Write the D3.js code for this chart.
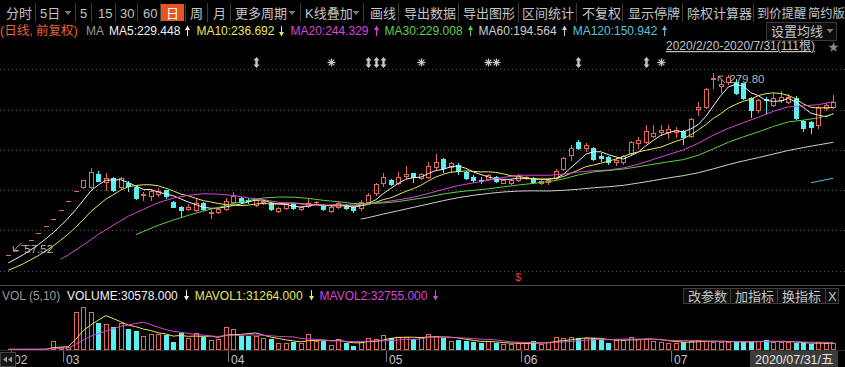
<!DOCTYPE html>
<html>
<head>
<meta charset="utf-8">
<script src="https://cdn.jsdelivr.net/npm/d3@7"></script>
<style>
  body { margin: 0; background: #000; overflow: hidden; }
  svg { display: block; }
</style>
</head>
<body>
<div id="chart"></div>
<script>
////////////////////////////////////////////////////////////////////////
// data (111 daily candles, 2020/2/20 - 2020/7/31)
var openP = [57.52,63.27,69.60,76.56,84.22,92.64,101.90,112.09,123.30,135.63,
  141.0,140.3,156.5,147.1,151.3,141.0,145.9,141.0,130.7,129.7,
  131.8,136.5,122.7,116.6,114.3,112.6,120.8,109.3,110.5,113.4,
  122.7,126.9,125.0,118.7,122.7,120.8,111.4,115.4,119.6,113.4,
  117.5,122.0,118.7,111.7,116.6,118.7,116.6,114.7,122.7,133.0,
  145.2,149.2,145.2,154.1,157.4,152.0,153.2,164.7,174.5,164.7,
  167.5,159.4,153.2,149.5,150.1,153.2,146.0,145.2,149.2,151.5,
  151.3,145.2,146.4,152.0,162.6,179.7,196.0,187.9,187.9,178.9,
  177.3,171.6,170.8,181.8,194.0,196.0,203.3,207.8,208.2,207.5,
  209.0,203.3,235.6,238.7,272.5,264.0,268.5,269.2,267.3,249.0,
  234.7,248.5,240.8,246.9,244.8,249.0,221.3,220.4,216.4,237.5,238.7];
var highP = [57.52,63.27,69.60,76.56,84.22,92.64,101.90,112.09,123.30,135.63,
  149.19,164.11,160.6,157.4,152.5,153.0,148.4,142.0,134.9,138.2,
  139.0,137.5,124.0,117.5,119.5,126.9,122.0,112.6,114.5,126.9,
  134.9,129.0,127.0,126.0,125.0,122.0,116.5,121.0,121.0,118.0,
  126.9,124.0,120.0,118.0,123.0,119.5,117.5,124.8,133.7,145.6,
  157.4,151.0,159.4,166.3,158.0,157.5,170.8,180.9,176.0,171.6,
  169.6,160.5,155.0,152.5,157.0,154.0,150.0,150.5,157.0,154.5,
  152.5,149.0,152.0,162.6,177.0,192.0,198.1,194.0,189.0,181.8,
  178.5,175.7,180.0,197.0,201.7,216.4,216.4,216.4,216.0,213.9,
  210.5,225.0,244.8,261.9,279.80,271.0,277.0,272.5,268.0,250.0,
  248.0,250.5,255.1,257.5,254.0,252.0,222.0,221.0,240.0,243.0,253.0];
var lowP = [57.52,63.27,69.60,76.56,84.22,92.64,101.90,112.09,123.30,135.63,
  139.5,139.0,147.5,137.0,136.0,140.0,136.2,126.0,124.8,124.8,
  130.0,127.0,116.0,104.4,112.5,111.0,112.0,102.5,109.0,112.5,
  121.0,121.0,121.0,117.0,120.0,112.0,110.0,114.0,114.0,112.0,
  116.0,120.0,112.0,110.0,115.0,114.0,110.5,113.0,121.0,131.0,
  141.9,143.0,144.0,152.0,147.1,151.0,152.0,163.0,159.4,159.4,
  156.2,150.0,147.0,145.2,149.0,147.0,145.0,144.0,148.0,150.0,
  145.0,144.0,144.0,151.0,161.0,173.6,186.5,184.6,174.0,172.4,
  169.0,167.5,169.0,180.0,188.3,195.0,201.7,204.1,200.5,201.7,
  192.8,202.0,228.6,237.0,261.2,257.0,266.0,254.0,248.0,226.5,
  232.0,230.7,239.0,245.0,243.0,224.0,209.0,206.5,213.0,235.0,237.0];
var closeP = [57.52,63.27,69.60,76.56,84.22,92.64,101.90,112.09,123.30,135.63,
  149.19,159.4,148.4,152.0,137.0,151.3,141.9,126.9,131.9,135.8,
  136.2,129.5,116.6,112.6,116.5,120.8,113.4,110.3,113.4,123.9,
  129.7,122.7,123.0,124.8,123.5,113.4,115.4,119.6,115.4,116.6,
  120.8,122.7,113.4,116.6,121.5,115.4,112.6,122.7,130.9,144.0,
  153.2,144.3,153.2,156.5,153.2,156.2,166.3,171.6,163.5,170.3,
  160.6,151.3,149.2,148.4,155.3,148.4,149.2,149.2,155.3,152.7,
  146.4,148.0,149.2,160.2,175.7,187.9,187.9,191.9,174.9,175.7,
  170.8,173.6,178.9,195.6,198.1,209.0,206.2,210.3,211.1,210.3,
  202.1,223.7,238.0,260.3,274.1,266.0,275.4,255.1,249.0,234.7,
  246.9,246.9,249.0,250.9,250.9,225.3,213.1,214.3,238.7,240.8,244.8];

// volume, thousands
var volK = [3,3,3,3.5,3.5,4,40.5,12,15,172.5,
  195,169.5,120,117,105,123,93,87,63,72,
  72,67.5,37.5,78,52.5,78,60,45,48,102,
  93,63,63,63,52.5,48,33,33,37.5,33,
  72,40.5,40.5,22.5,48,33,19.5,37.5,52.5,48,
  67.5,55.5,60,57,48,57,72,63,52.5,40.5,
  45,40.5,37.5,30,40.5,33,25.5,25.5,30,33,
  40.5,27,34.5,57,52.5,57,52.5,52.5,52.5,48,
  30,45,45,60,49.5,49.5,42,34.5,33,33,
  34.5,40.5,45,40.5,37.5,34.5,37.5,37.5,34.5,37.5,
  40.5,45,37.5,34.5,34.5,30,30,25.5,34.5,33,30.578];

// moving averages as drawn (one value per candle)
var ma5 = [48.0,52.8,58.0,63.9,70.2,77.3,85.0,93.5,102.8,113.1,
  124.4,135.9,143.2,148.9,149.2,149.6,146.1,141.8,137.8,137.6,
  134.5,132.1,130.0,126.1,122.3,119.2,116.0,114.7,114.9,116.4,
  118.1,120.0,122.5,124.8,124.7,121.5,120.0,119.3,117.5,116.1,
  117.6,119.0,117.8,118.0,119.0,117.9,115.9,117.8,120.6,125.1,
  132.7,139.0,145.1,150.2,152.1,152.7,157.1,160.8,162.2,165.6,
  166.5,163.5,159.0,156.0,153.0,150.5,150.1,150.1,151.5,151.0,
  150.6,150.3,150.3,151.3,155.9,164.2,172.2,180.7,183.7,183.7,
  180.2,177.4,174.8,178.9,183.4,191.0,197.6,203.8,206.9,209.4,
  208.0,211.5,217.0,226.9,239.6,252.4,262.8,266.2,263.9,256.0,
  252.2,246.5,245.3,245.7,248.9,244.6,237.8,230.9,228.5,226.4,230.3];
var ma10 = [38.9,42.8,47.0,51.8,56.9,62.6,68.9,75.8,83.3,91.7,
  100.8,110.5,118.3,125.9,131.2,137.0,141.0,142.5,143.4,143.4,
  142.1,139.1,135.9,132.0,129.9,126.9,124.0,122.4,120.5,119.3,
  118.7,118.0,118.6,119.9,120.6,119.8,120.0,120.9,121.1,120.4,
  119.5,119.5,118.6,117.7,117.5,117.7,117.5,117.8,119.3,122.1,
  125.3,127.5,131.4,135.4,138.6,142.7,148.1,152.9,156.2,158.8,
  159.6,160.3,159.9,159.1,159.3,158.5,156.8,154.5,153.7,152.0,
  150.5,150.2,150.2,151.4,153.4,157.4,161.3,165.5,167.5,169.8,
  172.2,174.8,177.8,181.3,183.5,185.6,187.5,189.3,192.9,196.4,
  199.5,204.5,210.4,216.9,224.5,230.2,237.1,241.6,245.4,247.8,
  252.3,254.6,255.7,254.8,252.5,248.4,242.2,238.1,237.1,237.7,237.5];
// longer averages: [candle index, value]
var ma20 = [[7,52.5],[8,57.7],[10,69.9],[12,82.7],[14,94.0],[16,105.0],[18,113.4],[20,121.5],
  [22,127.1],[24,130.5],[26,132.5],[28,131.9],[30,130.4],[32,127.3],[34,125.2],[36,122.0],
  [38,120.8],[40,119.1],[42,118.6],[44,119.1],[46,118.7],[48,120.2],[50,122.4],[52,125.0],
  [54,128.1],[56,132.8],[58,137.8],[60,142.4],[62,145.7],[64,148.9],[66,152.4],[68,155.0],
  [70,155.1],[72,155.0],[74,156.4],[76,159.0],[78,160.6],[80,161.4],[82,164.0],[84,168.5],
  [86,174.4],[88,180.2],[90,185.9],[92,194.1],[94,204.0],[96,212.3],[98,219.2],[100,225.9],
  [102,233.1],[104,238.5],[106,239.7],[108,241.2],[110,244.9]];
var ma30 = [[17,82.5],[18,86.3],[20,93.9],[22,100.4],[24,106.0],[26,111.3],[28,115.7],[30,120.5],
  [32,124.3],[34,127.2],[36,128.4],[38,128.3],[40,126.8],[42,124.4],[44,122.7],[46,120.5],
  [48,120.3],[50,121.2],[52,122.9],[54,125.6],[56,128.5],[58,132.2],[60,134.8],[62,136.6],
  [64,138.5],[66,140.8],[68,143.1],[70,145.1],[72,147.2],[74,150.4],[76,155.4],[78,159.1],
  [80,160.8],[82,162.6],[84,165.4],[86,168.5],[88,171.4],[90,174.1],[92,179.5],[94,187.2],
  [96,195.3],[98,201.9],[100,208.0],[102,214.6],[104,220.2],[106,222.3],[108,225.1],[110,229.8]];
var ma60 = [[47,101.4],[48,103.3],[50,107.6],[52,111.7],[54,115.8],[56,119.9],[58,124.0],[60,127.7],
  [62,130.5],[64,132.8],[66,134.6],[68,135.7],[70,136.0],[72,135.8],[74,136.6],[76,137.9],
  [78,139.7],[80,141.0],[82,142.7],[84,145.5],[86,148.5],[88,151.8],[90,154.5],[92,158.1],
  [94,162.8],[96,168.0],[98,172.5],[100,176.6],[102,180.9],[104,185.3],[106,188.8],[108,192.1],[110,195.3]];
var ma120 = [[107,145.9],[108,147.7],[109,149.6],[110,151.4]];

var mavol1 = [3.0,3.0,3.1,3.1,3.2,3.4,10.9,12.7,15.0,48.8,
  87.0,112.8,134.4,154.8,141.3,126.9,111.6,105.0,94.2,87.6,
  77.4,72.3,62.4,65.4,61.5,62.7,61.2,62.7,56.7,66.6,
  69.6,70.2,73.8,76.8,66.9,57.9,51.9,45.9,40.8,36.9,
  41.7,43.2,44.7,41.7,44.7,36.9,32.7,32.1,38.1,38.1,
  45.0,52.2,56.7,57.6,57.6,55.5,58.8,59.4,58.5,57.0,
  54.6,48.3,43.2,38.7,38.7,36.3,33.3,30.9,30.9,29.4,
  30.9,31.2,33.0,38.4,42.3,45.6,50.7,54.3,53.4,52.5,
  47.1,45.6,44.1,45.6,45.9,49.8,49.2,47.1,41.7,38.4,
  35.4,35.1,37.2,38.7,39.6,39.6,39.0,37.5,36.3,36.3,
  37.5,39.0,39.0,39.0,38.4,36.3,33.3,30.9,30.9,30.6,31.3];
var mavol2 = [3.0,3.0,3.0,3.1,3.1,3.2,7.0,7.9,9.1,26.0,
  45.2,61.9,73.6,84.9,95.1,107.0,112.2,119.7,124.5,114.5,
  102.2,92.0,83.7,79.8,74.6,70.1,66.8,62.6,61.1,64.1,
  66.2,65.7,68.3,66.8,66.8,63.8,61.1,59.9,58.8,51.9,
  49.8,47.6,45.3,41.3,40.8,39.3,38.0,38.4,39.9,41.4,
  41.0,42.5,44.4,47.9,47.9,50.3,55.5,58.1,58.1,57.3,
  55.1,53.6,51.3,48.6,47.9,45.5,40.8,37.1,34.8,34.1,
  33.6,32.3,32.0,34.7,35.9,38.3,41.0,43.7,45.9,47.4,
  46.4,48.2,49.2,49.5,49.2,48.5,47.4,45.6,43.7,42.2,
  42.6,42.2,42.2,40.2,39.0,37.5,37.1,37.4,37.5,38.0,
  38.6,39.0,38.3,37.7,37.4,36.9,36.2,35.0,35.0,34.5,32.8];

var maNames = ['MA5', 'MA10', 'MA20', 'MA30', 'MA60', 'MA120'];
var maLast  = [229.448, 236.692, 244.329, 229.008, 194.564, 150.942];
var maDir   = ['up', 'down', 'up', 'up', 'up', 'up'];
var volNames = ['VOLUME', 'MAVOL1', 'MAVOL2'];
var volLast  = [30578, 31264, 32755];
var volDir   = ['down', 'down', 'down'];

var monthIdx = [0, 7, 29, 50, 68, 88];
var monthLabels = ['02', '03', '04', '05', '06', '07'];
var eventIdx  = [33, 43, 48, 49, 50, 55, 64, 65, 76, 85, 87];
var eventKind = ['d', 's', 'd', 'd', 'd', 's', 's', 's', 'd', 'd', 's'];
var lowIdx = 0, highIdx = 94;

var tbLabels = ['分时','5日','5','15','30','60','日','周','月','更多周期','K线叠加','画线',
  '导出数据','导出图形','区间统计','不复权','显示停牌','除权计算器','到价提醒','简约版'];

////////////////////////////////////////////////////////////////////////
// layout
var svgWidth = 845, svgHeight = 367;
var RED = '#e4695a', CYAN = '#58f0f0', GRAY = '#c4c4c4';
var maColors = ['#f2f2f2', '#e8e85a', '#d846d8', '#5ed048', '#cfcfcf', '#56c2dc'];
var volColors = ['#f2f2f2', '#e8e85a', '#d846d8'];
var tbX = [6,40,80,98,120,143,166,190,213,235,305,370,404,463,522,582,628,687,757,808];
var tbSeps = [35,75,91,115,137,160,185,207,230,300,363,398,458,518,576,622,682,753];
var tbDrop = [68, 292, 356];

var svg = d3.select('#chart').append('svg')
  .attr('width', svgWidth).attr('height', svgHeight)
  .style('font-family', '"Liberation Sans","Noto Sans CJK SC",sans-serif');
svg.append('rect').attr('width', svgWidth).attr('height', svgHeight).attr('fill', '#000');

var n = closeP.length;
var x = d3.scaleBand().domain(d3.range(n)).range([4.55, 837.05]);
function cx(i){ return x(i) + x.bandwidth() / 2; }
function px(i){ return Math.round(cx(i)); }
var y  = d3.scaleLinear().domain([21.0, 314.1]).range([285, 45]);
var yv = d3.scaleLinear().domain([0, 198]).range([350, 306]);

function drawArrow(g, ax, y0, y1, dir, col){
  ax = Math.round(ax) + 0.5;
  g.append('line').attr('x1', ax).attr('x2', ax).attr('y1', y0).attr('y2', y1)
    .attr('stroke', col).attr('stroke-width', 1);
  var tip = dir === 'up' ? y0 : y1, s = dir === 'up' ? 1 : -1;
  g.append('path')
    .attr('d', 'M' + (ax - 2.5) + ',' + (tip + 4 * s) + 'L' + ax + ',' + (tip - 0.5 * s) + 'L' + (ax + 2.5) + ',' + (tip + 4 * s) + 'Z')
    .attr('fill', col);
}

////////////////////////////////////////////////////////////////////////
// toolbar
var tb = svg.append('g');
tb.selectAll('line.sep').data(tbSeps).join('line')
  .attr('x1', d => d + 0.5).attr('x2', d => d + 0.5).attr('y1', 3).attr('y2', 22)
  .attr('stroke', '#3c3c3c');
tb.append('rect').attr('x', 161).attr('y', 4).attr('width', 23).attr('height', 17).attr('fill', '#e5561f');
tb.selectAll('text.tb').data(tbLabels).join('text')
  .attr('x', (d, i) => tbX[i]).attr('y', 18)
  .attr('font-size', (d, i) => i >= tbLabels.length - 2 ? 12.3 : 13)
  .attr('fill', d => d === '日' ? '#fff' : GRAY)
  .text(d => d);
tb.selectAll('path.drop').data(tbDrop).join('path')
  .attr('d', d => 'M' + (d - 3.5) + ',11L' + (d + 3.5) + ',11L' + d + ',15Z')
  .attr('fill', '#7a7a7a');

////////////////////////////////////////////////////////////////////////
// price legend
var lg = svg.append('g');
lg.append('text').attr('x', 0).attr('y', 35).attr('font-size', 12.5).attr('fill', '#e2643c').text('(日线, 前复权)');
lg.append('text').attr('x', 86).attr('y', 35).attr('font-size', 12).attr('fill', '#9a9a9a').text('MA');
var lx = 109;
maNames.forEach(function(name, k){
  var t = lg.append('text').attr('x', lx).attr('y', 35).attr('font-size', 12)
    .attr('fill', maColors[k]).text(name + ':' + maLast[k].toFixed(3));
  var w = t.node().getComputedTextLength();
  drawArrow(lg, lx + w + 7, 26, 36, maDir[k], maColors[k]);
  lx += w + 16;
});
lg.append('rect').attr('x', 766.5).attr('y', 22.5).attr('width', 70).attr('height', 18)
  .attr('fill', '#0c0c0c').attr('stroke', '#3a3a3a');
lg.append('text').attr('x', 771).attr('y', 36).attr('font-size', 13).attr('fill', GRAY).text('设置均线');
lg.append('path').attr('d', 'M826.5,29L833.5,29L830,33Z').attr('fill', '#7a7a7a');
lg.append('text').attr('x', 666).attr('y', 50).attr('font-size', 12).attr('fill', GRAY)
  .attr('text-decoration', 'underline').text('2020/2/20-2020/7/31(111根)');
lg.append('text').attr('x', 828).attr('y', 51).attr('font-size', 11).attr('fill', '#8a8a8a').text('★');

////////////////////////////////////////////////////////////////////////
// grid
var gridLevels = d3.range(6).map(k => 38.5 + 49.2 * k);
svg.append('g').selectAll('line').data(gridLevels).join('line')
  .attr('x1', 0).attr('x2', svgWidth)
  .attr('y1', d => Math.round(y(d)) + 0.5).attr('y2', d => Math.round(y(d)) + 0.5)
  .attr('stroke', '#555').attr('stroke-dasharray', '1,3');

////////////////////////////////////////////////////////////////////////
// candles
var kg = svg.append('g').attr('shape-rendering', 'crispEdges');
d3.range(n).forEach(function(i){
  var xc = px(i) + 0.5;
  var yo = Math.round(y(openP[i])), yc = Math.round(y(closeP[i]));
  var yh = Math.round(y(highP[i])), yl = Math.round(y(lowP[i]));
  var top = Math.min(yo, yc), bot = Math.max(yo, yc);
  var rise = closeP[i] >= openP[i];
  var col = rise ? RED : CYAN;
  if (rise) {
    if (yh < top) kg.append('line').attr('x1', xc).attr('x2', xc).attr('y1', yh).attr('y2', top).attr('stroke', col);
    if (yl > bot) kg.append('line').attr('x1', xc).attr('x2', xc).attr('y1', bot).attr('y2', yl + 1).attr('stroke', col);
  } else {
    kg.append('line').attr('x1', xc).attr('x2', xc).attr('y1', yh).attr('y2', yl + 1).attr('stroke', col);
  }
  if (bot - top < 1) {
    kg.append('line').attr('x1', xc - 2.5).attr('x2', xc + 2.5).attr('y1', top + 0.5).attr('y2', top + 0.5).attr('stroke', col);
  } else if (rise) {
    kg.append('rect').attr('x', xc - 2).attr('y', top + 0.5).attr('width', 4).attr('height', bot - top)
      .attr('fill', 'none').attr('stroke', col);
  } else {
    kg.append('rect').attr('x', xc - 2.5).attr('y', top).attr('width', 5).attr('height', bot - top + 1).attr('fill', col);
  }
});

// moving average lines
var maLine = d3.line().x(d => cx(d[0])).y(d => y(d[1]));
var maSeries = [ma5.map((v, i) => [i, v]), ma10.map((v, i) => [i, v]), ma20, ma30, ma60, ma120];
svg.append('g').selectAll('path').data(maSeries).join('path')
  .attr('d', maLine).attr('fill', 'none')
  .attr('stroke', (d, k) => maColors[k]).attr('stroke-width', 1);

// low / high labels
var lab = svg.append('g').attr('fill', '#b4b4b4').attr('font-size', 11.5);
var lxp = cx(lowIdx), lyp = y(lowP[lowIdx]);
lab.append('path').attr('d', 'M' + (lxp + 13) + ',' + (lyp - 12) + 'L' + (lxp + 5) + ',' + (lyp - 4)
  + 'M' + (lxp + 5) + ',' + (lyp - 9) + 'L' + (lxp + 5) + ',' + (lyp - 4) + 'L' + (lxp + 10) + ',' + (lyp - 4))
  .attr('stroke', '#b4b4b4').attr('fill', 'none');
lab.append('text').attr('x', lxp + 16).attr('y', lyp - 2).text(lowP[lowIdx].toFixed(2));
var hxp = cx(highIdx), hyp = y(highP[highIdx]);
lab.append('path').attr('d', 'M' + (hxp + 12) + ',' + (hyp + 10) + 'L' + (hxp + 5) + ',' + (hyp + 3)
  + 'M' + (hxp + 5) + ',' + (hyp + 8) + 'L' + (hxp + 5) + ',' + (hyp + 3) + 'L' + (hxp + 10) + ',' + (hyp + 3))
  .attr('stroke', '#b4b4b4').attr('fill', 'none');
lab.append('text').attr('x', hxp + 16).attr('y', hyp + 10).text(highP[highIdx].toFixed(2));

// event markers
var ev = svg.append('g').attr('fill', '#c8c8c8').attr('stroke', '#c8c8c8');
eventIdx.forEach(function(idx, k){
  var mx = px(idx) + 0.5, my = 62.5;
  if (eventKind[k] === 'd') {
    ev.append('path').attr('stroke', 'none')
      .attr('d', 'M' + mx + ',' + (my - 5.5) + 'L' + (mx + 3) + ',' + (my - 2) + 'L' + (mx - 3) + ',' + (my - 2) + 'Z'
        + 'M' + (mx - 1.2) + ',' + (my - 2) + 'h2.4v4h-2.4Z'
        + 'M' + mx + ',' + (my + 5.5) + 'L' + (mx + 3) + ',' + (my + 2) + 'L' + (mx - 3) + ',' + (my + 2) + 'Z');
  } else {
    [0, 45, 90, 135].forEach(function(a){
      var r = a * Math.PI / 180;
      ev.append('line').attr('stroke-width', 1.2)
        .attr('x1', mx - 4 * Math.cos(r)).attr('x2', mx + 4 * Math.cos(r))
        .attr('y1', my - 4 * Math.sin(r)).attr('y2', my + 4 * Math.sin(r));
    });
    ev.append('circle').attr('cx', mx).attr('cy', my).attr('r', 1.8).attr('stroke', 'none');
  }
});

svg.append('text').attr('x', cx(68)).attr('y', 281).attr('text-anchor', 'middle')
  .attr('font-size', 11).attr('fill', '#d83a3a').text('$');

////////////////////////////////////////////////////////////////////////
// volume panel
svg.append('line').attr('x1', 0).attr('x2', svgWidth).attr('y1', 285.5).attr('y2', 285.5).attr('stroke', '#4a4a4a');
svg.append('line').attr('x1', 0).attr('x2', svgWidth).attr('y1', 350.5).attr('y2', 350.5).attr('stroke', '#2e2e2e');

var vl = svg.append('g');
vl.append('text').attr('x', 2).attr('y', 299.5).attr('font-size', 12).attr('fill', '#9a9a9a').text('VOL (5,10)');
var vx = 67;
volNames.forEach(function(name, k){
  var t = vl.append('text').attr('x', vx).attr('y', 299.5).attr('font-size', 12)
    .attr('fill', volColors[k]).text(name + ':' + volLast[k].toFixed(3));
  var w = t.node().getComputedTextLength();
  drawArrow(vl, vx + w + 8, 290, 300, volDir[k], volColors[k]);
  vx += w + 17;
});

var btns = ['改参数', '加指标', '换指标', 'X'];
var btnX = [683, 730, 777, 825, 838];
btns.forEach(function(b, k){
  vl.append('rect').attr('x', btnX[k] + 0.5).attr('y', 288.5).attr('width', btnX[k + 1] - btnX[k]).attr('height', 15)
    .attr('fill', '#0e0e0e').attr('stroke', '#3c3c3c');
  vl.append('text').attr('x', btnX[k] + (k === 3 ? 3 : 5)).attr('y', 300.5).attr('font-size', 13)
    .attr('fill', GRAY).text(b);
});

var vg = svg.append('g').attr('shape-rendering', 'crispEdges');
d3.range(n).forEach(function(i){
  var xc = px(i) + 0.5;
  var top = Math.round(yv(volK[i]));
  var rise = closeP[i] >= openP[i];
  if (rise) {
    vg.append('rect').attr('x', xc - 2).attr('y', top + 0.5).attr('width', 4).attr('height', Math.max(0, 349 - top))
      .attr('fill', 'none').attr('stroke', RED);
  } else {
    vg.append('rect').attr('x', xc - 2.5).attr('y', top).attr('width', 5).attr('height', 350 - top).attr('fill', CYAN);
  }
});

var volLine = d3.line().x((d, i) => cx(i)).y(d => yv(d));
svg.append('g').selectAll('path').data([mavol1, mavol2]).join('path')
  .attr('d', volLine).attr('fill', 'none')
  .attr('stroke', (d, k) => volColors[k + 1]).attr('stroke-width', 1);

////////////////////////////////////////////////////////////////////////
// month axis
var ax = svg.append('g');
monthIdx.forEach(function(idx, k){
  var tx = Math.round(cx(idx) + 2.3) + 0.5;
  ax.append('line').attr('x1', tx).attr('x2', tx).attr('y1', 351).attr('y2', 362).attr('stroke', '#7a7a7a');
  ax.append('text').attr('x', tx + 2.5).attr('y', 363.5).attr('font-size', 12).attr('fill', GRAY).text(monthLabels[k]);
});
ax.append('rect').attr('x', 0.5).attr('y', 352.5).attr('width', 15).attr('height', 14).attr('fill', '#141414').attr('stroke', '#444');
ax.append('path').attr('d', 'M3,359.5L7,356.5L7,362.5Z M8,359.5L12,356.5L12,362.5Z').attr('fill', '#9a9a9a');
ax.append('rect').attr('x', 750).attr('y', 351).attr('width', 88).attr('height', 16).attr('fill', '#3b3b3b');
ax.append('text').attr('x', 755).attr('y', 364).attr('font-size', 12.5).attr('fill', '#e4e4e4').text('2020/07/31/五');
</script>
</body>
</html>
